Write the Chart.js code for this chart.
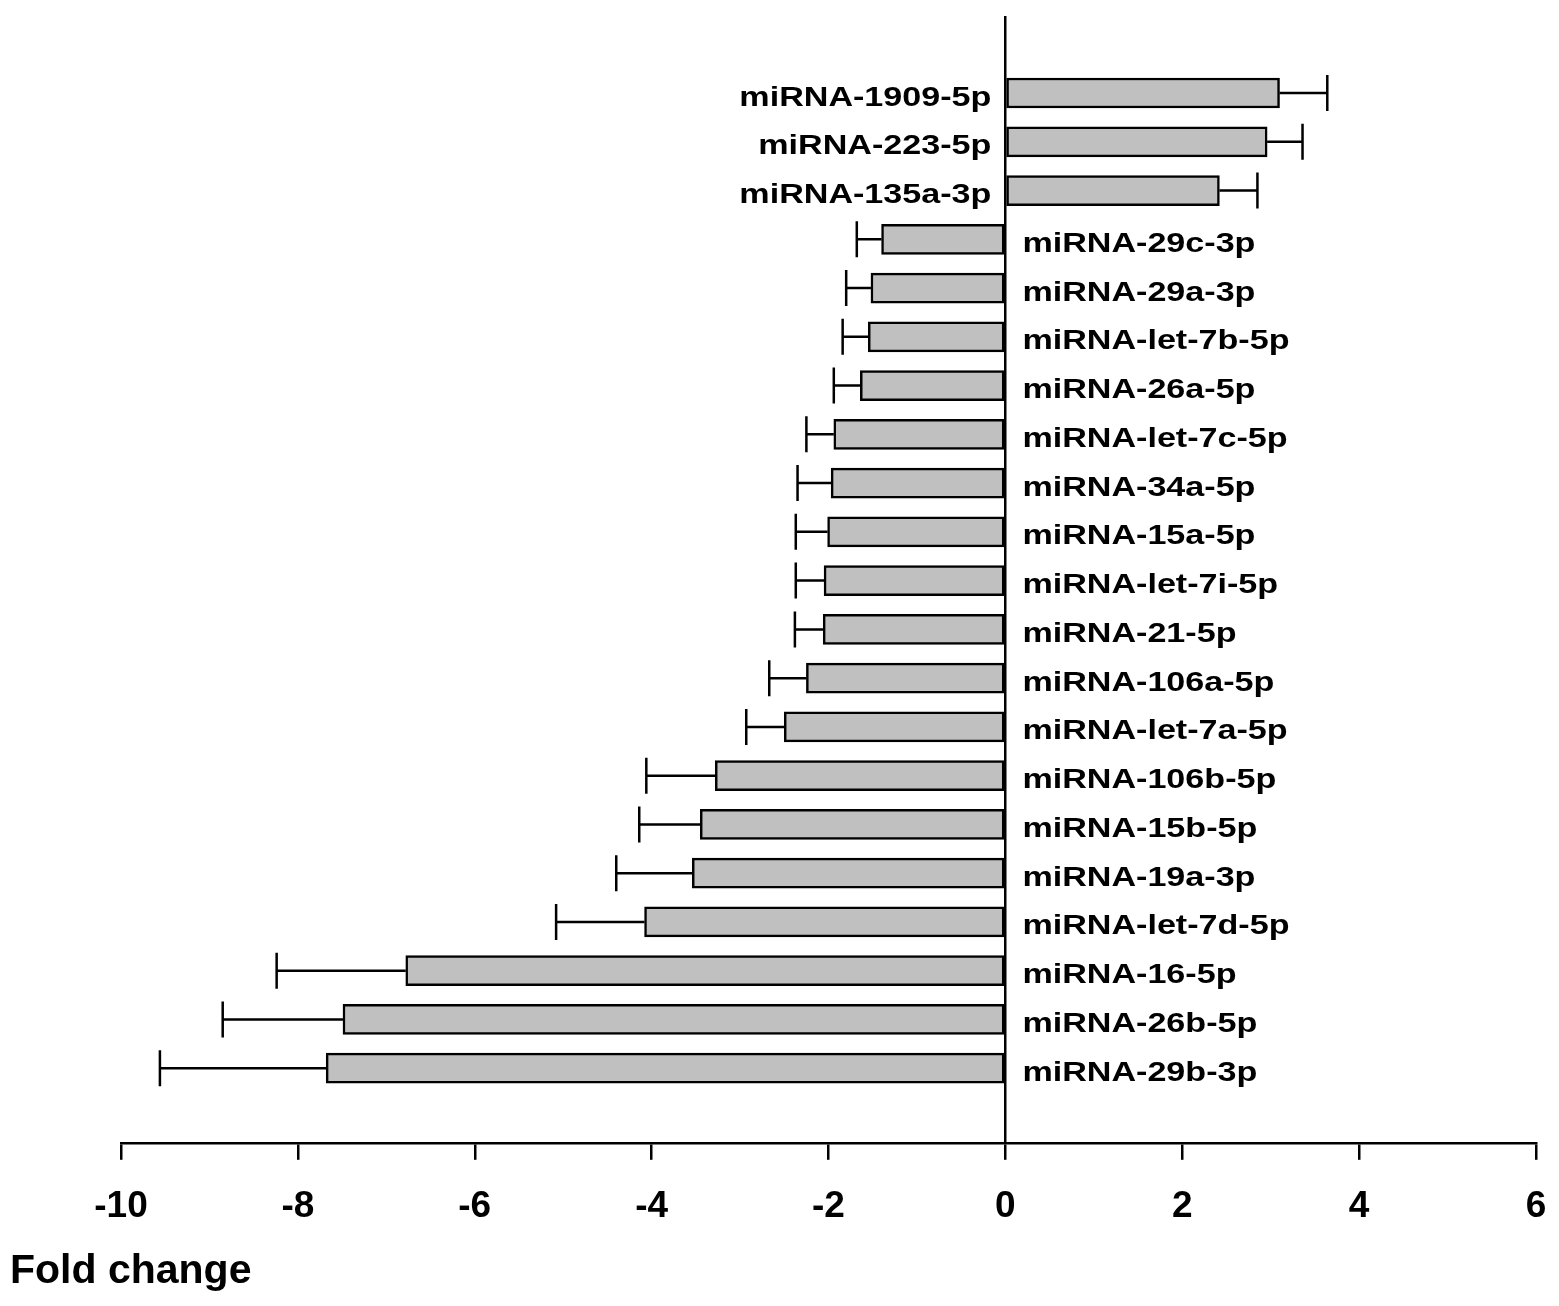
<!DOCTYPE html>
<html>
<head>
<meta charset="utf-8">
<script src="https://cdn.jsdelivr.net/npm/chart.js@4/dist/chart.umd.min.js"></script>
<style>
  html, body { margin: 0; padding: 0; background: #ffffff; }
  #wrap { width: 1559px; height: 1306px; }
</style>
</head>
<body>
<div id="wrap"><canvas id="c" width="1559" height="1306"></canvas></div>
<script>
// ---- data ----
const categories = [
  "miRNA-1909-5p", "miRNA-223-5p", "miRNA-135a-3p", "miRNA-29c-3p", "miRNA-29a-3p",
  "miRNA-let-7b-5p", "miRNA-26a-5p", "miRNA-let-7c-5p", "miRNA-34a-5p", "miRNA-15a-5p",
  "miRNA-let-7i-5p", "miRNA-21-5p", "miRNA-106a-5p", "miRNA-let-7a-5p", "miRNA-106b-5p",
  "miRNA-15b-5p", "miRNA-19a-3p", "miRNA-let-7d-5p", "miRNA-16-5p", "miRNA-26b-5p",
  "miRNA-29b-3p"
];
const foldChange = [
  3.10, 2.96, 2.42, -1.40, -1.52,
  -1.55, -1.64, -1.94, -1.97, -2.01,
  -2.05, -2.06, -2.25, -2.50, -3.28,
  -3.45, -3.54, -4.08, -6.78, -7.49,
  -7.68
];
const errorBars = [
  0.54, 0.40, 0.43, 0.28, 0.28,
  0.29, 0.30, 0.31, 0.38, 0.36,
  0.32, 0.32, 0.42, 0.43, 0.78,
  0.69, 0.86, 1.00, 1.46, 1.36,
  1.88
];
const xTicks = [-10, -8, -6, -4, -2, 0, 2, 4, 6];
const axisTitle = "Fold change";

const FONT = "'Liberation Sans', Arial, Helvetica, sans-serif";

const points = categories.map((name, i) => ({ x: foldChange[i], y: i }));

const errorBarPlugin = {
  id: 'errorBars',
  afterDatasetsDraw(chart) {
    const ctx = chart.ctx;
    const xs = chart.scales.x, ys = chart.scales.y;
    ctx.save();
    ctx.strokeStyle = '#000';
    ctx.lineWidth = 2.5;
    foldChange.forEach((v, i) => {
      const dir = v >= 0 ? 1 : -1;
      const xb = xs.getPixelForValue(v);
      const xe = xs.getPixelForValue(v + dir * errorBars[i]);
      const y = ys.getPixelForValue(i);
      ctx.beginPath();
      ctx.moveTo(xb, y);
      ctx.lineTo(xe, y);
      ctx.moveTo(xe, y - 18);
      ctx.lineTo(xe, y + 18);
      ctx.stroke();
    });
    ctx.restore();
  }
};

const namePlugin = {
  id: 'names',
  afterDatasetsDraw(chart) {
    const ctx = chart.ctx;
    const xs = chart.scales.x, ys = chart.scales.y;
    const x0 = xs.getPixelForValue(0);
    ctx.save();
    ctx.fillStyle = '#000';
    ctx.font = "bold 27.5px " + FONT;
    ctx.textBaseline = 'alphabetic';
    categories.forEach((name, i) => {
      const y = ys.getPixelForValue(i) + 12.5;
      const pos = foldChange[i] >= 0;
      ctx.save();
      ctx.translate(pos ? x0 - 14 : x0 + 17, y);
      ctx.scale(1.24, 1);
      ctx.textAlign = pos ? 'right' : 'left';
      ctx.fillText(name, 0, 0);
      ctx.restore();
    });
    ctx.restore();
  }
};

new Chart(document.getElementById('c'), {
  type: 'bar',
  data: {
    datasets: [{
      data: points,
      backgroundColor: '#c0c0c0',
      borderColor: '#000',
      borderWidth: 2.5,
      borderSkipped: false,
      barThickness: 30
    }]
  },
  options: {
    indexAxis: 'y',
    responsive: false,
    animation: false,
    layout: { padding: { left: 10, right: 23, top: 16, bottom: 0 } },
    plugins: {
      legend: { display: false },
      tooltip: { enabled: false },
      title: {
        display: true,
        text: axisTitle,
        position: 'bottom',
        align: 'start',
        color: '#000',
        font: { family: FONT, size: 41, weight: 'bold' },
        padding: { top: 17, bottom: 10 }
      }
    },
    scales: {
      x: {
        type: 'linear',
        min: xTicks[0],
        max: xTicks[xTicks.length - 1],
        afterBuildTicks: (scale) => { scale.ticks = xTicks.map(v => ({ value: v })); },
        afterFit: (scale) => {
          scale.height = 87;
          scale.paddingLeft = 12;
          scale.paddingRight = 12;
        },
        ticks: {
          color: '#000',
          padding: 25,
          maxRotation: 0,
          font: { family: FONT, size: 37, weight: 'bold' }
        },
        grid: {
          display: true,
          drawOnChartArea: true,
          drawTicks: true,
          tickLength: 17,
          lineWidth: 2.5,
          tickWidth: 2.5,
          tickColor: '#000',
          color: (c) => (c.tick && c.tick.value === 0) ? '#000' : 'rgba(0,0,0,0)'
        },
        border: { display: true, color: '#000', width: 2.5 }
      },
      y: {
        type: 'linear',
        position: 'left',
        reverse: true,
        offset: false,
        min: -1.58,
        max: 21.53,
        afterFit: (scale) => { scale.width = 111; },
        ticks: { display: false },
        grid: { display: false, offset: false },
        border: { display: false }
      }
    }
  },
  plugins: [errorBarPlugin, namePlugin]
});
</script>
</body>
</html>
